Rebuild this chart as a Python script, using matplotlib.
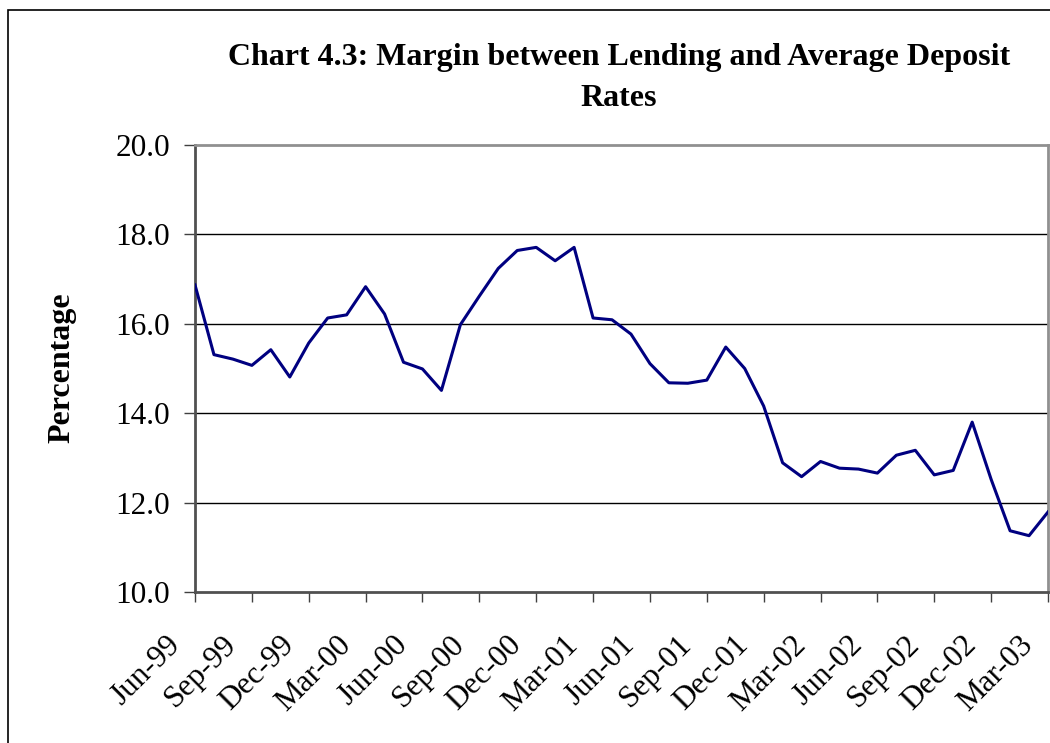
import matplotlib.pyplot as plt
import matplotlib.transforms as mtransforms
import numpy as np
from matplotlib.patches import Rectangle

# Monthly margin, Jun-99 .. Mar-03 (percentage points)
margin = [
    16.87, 15.31, 15.21, 15.07, 15.42, 14.81, 15.57, 16.13, 16.20, 16.83,
    16.22, 15.14, 14.99, 14.51, 15.98, 16.62, 17.24, 17.64, 17.71, 17.41,
    17.71, 16.13, 16.09, 15.77, 15.11, 14.68, 14.67, 14.74, 15.48, 15.00,
    14.16, 12.89, 12.58, 12.92, 12.77, 12.75, 12.66, 13.06, 13.17, 12.62,
    12.72, 13.80, 12.52, 11.37, 11.26, 11.79,
]
tick_labels = [
    "Jun-99", "Sep-99", "Dec-99", "Mar-00", "Jun-00", "Sep-00", "Dec-00",
    "Mar-01", "Jun-01", "Sep-01", "Dec-01", "Mar-02", "Jun-02", "Sep-02",
    "Dec-02", "Mar-03",
]
y_ticks = [10, 12, 14, 16, 18, 20]

plt.rcParams["font.family"] = ["Liberation Serif", "DejaVu Serif"]

W, H = 1050, 743
fig = plt.figure(figsize=(W / 100, H / 100), dpi=100)
ax = fig.add_axes([195 / W, 1 - 592 / H, (1048 - 195) / W, (592 - 145) / H])

# outer chart frame (left and top edges visible)
fig.patches.append(Rectangle((8 / W, -0.05), 1.2, 1.05 - 10 / H,
                             transform=fig.transFigure, fill=False,
                             edgecolor="black", linewidth=1.2))

x = np.arange(len(margin))
ax.plot(x, margin, color="#000080", linewidth=2.2, zorder=3)

ax.set_xlim(0, len(margin) - 1)
ax.set_ylim(10, 20)
ax.set_yticks(y_ticks)
ax.set_yticklabels([f"{v:.1f}" for v in y_ticks], fontsize=22.5)
ax.set_xticks(np.arange(0, len(margin), 3))
ax.set_xticklabels(tick_labels, fontsize=22.5, rotation=45, ha="right")
ax.tick_params(axis="x", length=7.5, width=1, color="#404040", pad=20)
ax.tick_params(axis="y", length=8, width=1, color="#404040", pad=10)

# nudge rotated labels slightly left, as in the original
shift = mtransforms.ScaledTranslation(-9 / 100, 0, fig.dpi_scale_trans)
for lab in ax.get_xticklabels():
    lab.set_transform(lab.get_transform() + shift)

for v in y_ticks[1:-1]:
    ax.axhline(v, color="black", linewidth=1, zorder=1)

for side in ("left", "bottom"):
    ax.spines[side].set_color("#505050")
    ax.spines[side].set_linewidth(2)
for side in ("top", "right"):
    ax.spines[side].set_color("#909090")
    ax.spines[side].set_linewidth(2)

fig.text(619 / W, 1 - 57 / H,
         "Chart 4.3: Margin between Lending and Average Deposit",
         ha="center", va="center", fontsize=23, fontweight="bold")
fig.text(619 / W, 1 - 98 / H, "Rates",
         ha="center", va="center", fontsize=23, fontweight="bold")
fig.text(62 / W, 1 - 368 / H, "Percentage", rotation=90,
         ha="center", va="center", fontsize=23, fontweight="bold")

fig.savefig("out.png", dpi=100)
